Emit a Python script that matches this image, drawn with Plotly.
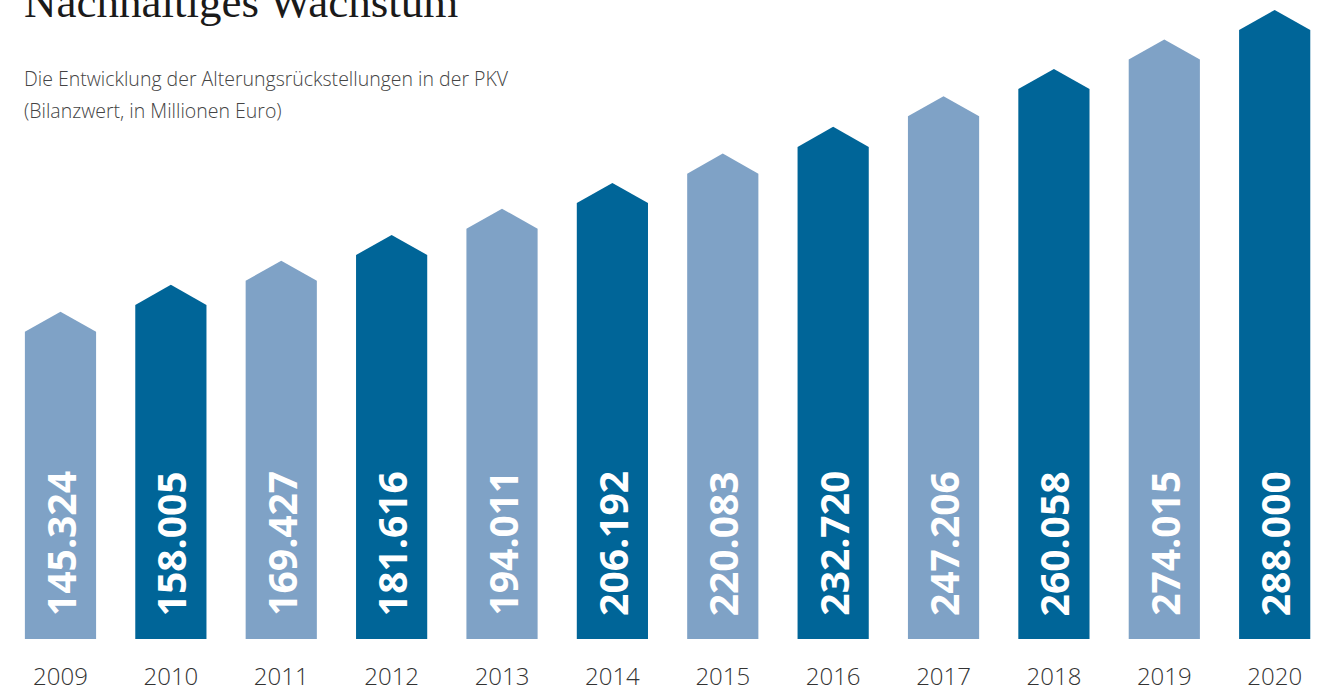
import plotly.graph_objects as go

years = ["2009", "2010", "2011", "2012", "2013", "2014", "2015", "2016", "2017", "2018", "2019", "2020"]
values = [145.324, 158.005, 169.427, 181.616, 194.011, 206.192, 220.083, 232.720, 247.206, 260.058, 274.015, 288.000]
labels = ["145.324", "158.005", "169.427", "181.616", "194.011", "206.192", "220.083", "232.720", "247.206", "260.058", "274.015", "288.000"]

LIGHT = "#7fa2c6"
DARK = "#006598"
HALF_W = 0.3225      # bar half width (x units)
HEAD = 9.5           # arrow head height (y units)

fig = go.Figure()
for i, v in enumerate(values):
    color = LIGHT if i % 2 == 0 else DARK
    xs = [i - HALF_W, i - HALF_W, i, i + HALF_W, i + HALF_W, i - HALF_W]
    ys = [0, v, v + HEAD, v, 0, 0]
    fig.add_trace(go.Scatter(x=xs, y=ys, mode="lines", fill="toself",
                             fillcolor=color, line=dict(width=0, color=color),
                             hoverinfo="skip", showlegend=False))
    fig.add_annotation(x=i, y=0, xref="x", yref="y", text=labels[i],
                       textangle=-90, showarrow=False, xanchor="center",
                       yanchor="bottom", yshift=21,
                       font=dict(family="Open Sans", size=39, color="white", weight="bold"))

fig.add_annotation(x=0, y=1, xref="paper", yref="paper", xanchor="left", yanchor="bottom",
                   xshift=22, yshift=-29, showarrow=False, text="Nachhaltiges Wachstum",
                   font=dict(family="Liberation Serif", size=45, color="#1a1a1a"))
fig.add_annotation(x=0, y=1, xref="paper", yref="paper", xanchor="left", yanchor="middle",
                   xshift=22, yshift=-78, showarrow=False,
                   text="Die Entwicklung der Alterungsrückstellungen in der PKV",
                   font=dict(family="Open Sans", size=19.5, color="#444444", weight=300))
fig.add_annotation(x=0, y=1, xref="paper", yref="paper", xanchor="left", yanchor="middle",
                   xshift=22, yshift=-110, showarrow=False,
                   text="(Bilanzwert, in Millionen Euro)",
                   font=dict(family="Open Sans", size=19.5, color="#444444", weight=300))

fig.update_layout(
    width=1328, height=691,
    margin=dict(l=0, r=0, t=0, b=52),
    paper_bgcolor="white", plot_bgcolor="white",
    xaxis=dict(range=[-0.548, 11.483], tickvals=list(range(len(years))), ticktext=years,
               showgrid=False, zeroline=False, showline=False, ticks="",
               ticklabelstandoff=21, automargin=False,
               tickfont=dict(family="Open Sans", size=24, color="#333333", weight=300),
               fixedrange=True),
    yaxis=dict(range=[0, 302.2], visible=False, showgrid=False, zeroline=False,
               automargin=False, fixedrange=True),
)

fig.write_html("out.html")
